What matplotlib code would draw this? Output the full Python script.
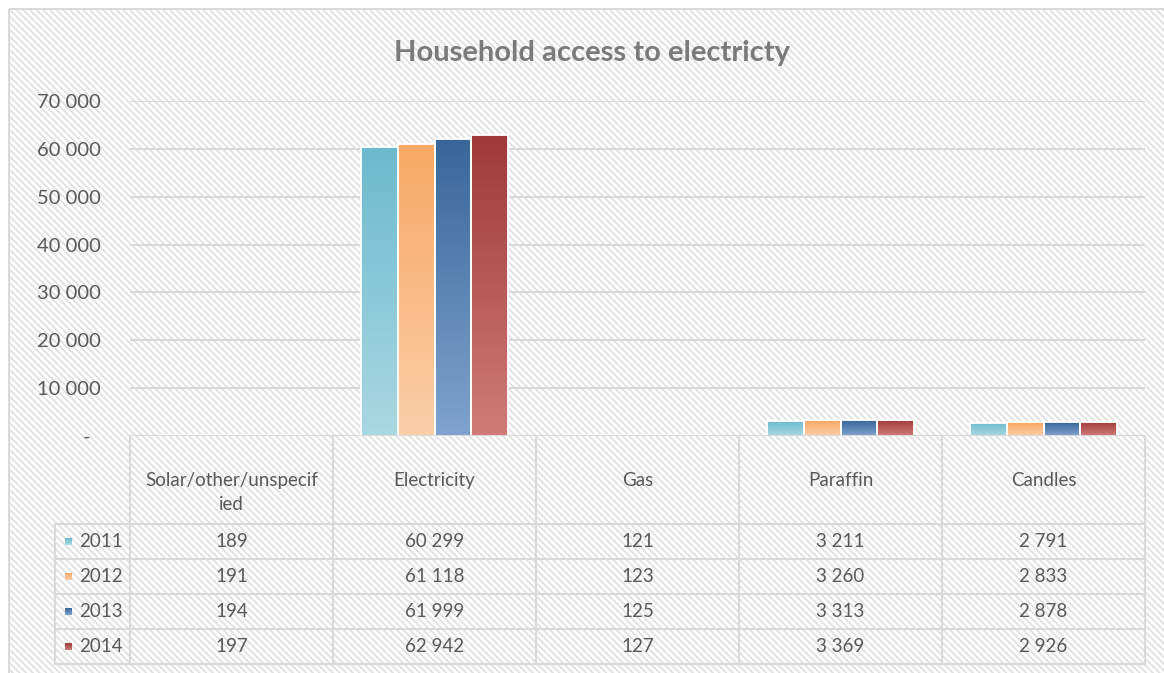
import matplotlib.pyplot as plt
import numpy as np
from matplotlib.colors import LinearSegmentedColormap
from matplotlib.patches import Rectangle
from matplotlib.ticker import FuncFormatter

# data
categories = ["Solar/other/unspecif\nied", "Electricity", "Gas", "Paraffin", "Candles"]
years = ["2011", "2012", "2013", "2014"]
v2011 = [189, 60299, 121, 3211, 2791]
v2012 = [191, 61118, 123, 3260, 2833]
v2013 = [194, 61999, 125, 3313, 2878]
v2014 = [197, 62942, 127, 3369, 2926]
yticks = [0, 10000, 20000, 30000, 40000, 50000, 60000, 70000]

series = [v2011, v2012, v2013, v2014]
# (top colour, bottom colour) of each gradient fill
grads = [("#6cbacd", "#aad8e3"), ("#f8a864", "#fbcea8"),
         ("#386699", "#80a3cf"), ("#9c3a39", "#d17b79")]

plt.rcParams['font.family'] = ['Lato', 'DejaVu Sans']
plt.rcParams['hatch.linewidth'] = 1.3
txt = '#595959'
grid = '#d9d9d9'

W, H = 1164, 673
fig = plt.figure(figsize=(W / 100, H / 100), dpi=100)

# background / table axes in pixel coordinates
bg = fig.add_axes([0, 0, 1, 1], zorder=0)
bg.set_xlim(0, W)
bg.set_ylim(H, 0)
bg.axis('off')
bg.add_patch(Rectangle((9, 9), W, H, facecolor='white', edgecolor='#e0e0e0',
                       hatch='\\\\\\\\\\', linewidth=0))
bg.add_patch(Rectangle((9, 9), W, H, facecolor='none', edgecolor=grid, linewidth=1.5))

bg.text(592, 61, "Household access to electricty", ha='center', va='baseline',
        fontsize=21, fontweight='bold', color='#7a7a7a')

# bar axes
x0, x1, y0, y1 = 130, 1145, 436, 101
ax = fig.add_axes([x0 / W, 1 - y0 / H, (x1 - x0) / W, (y0 - y1) / H], zorder=1)
ax.patch.set_alpha(0)
for s in ax.spines.values():
    s.set_visible(False)
ax.set_yticks(yticks)
ax.yaxis.set_major_formatter(FuncFormatter(
    lambda v, p: "-  " if v == 0 else f"{int(v):,}".replace(",", " ")))
ax.tick_params(axis='y', length=0, pad=21, labelsize=14.5, labelcolor=txt)
ax.set_xticks([])
ax.grid(axis='y', color=grid, linewidth=1.5)
ax.set_axisbelow(True)

x = np.arange(len(categories))
bw = 0.18
grad_img = np.linspace(1, 0, 256).reshape(-1, 1)
for i, vals in enumerate(series):
    cmap = LinearSegmentedColormap.from_list(years[i], [grads[i][1], grads[i][0]])
    pos = x + (i - 1.5) * bw
    bars = ax.bar(pos, vals, width=bw, facecolor='none', edgecolor='white',
                  linewidth=1.3, zorder=3)
    for b in bars:
        bx, by = b.get_x(), b.get_y()
        im = ax.imshow(grad_img, cmap=cmap, aspect='auto', interpolation='bilinear',
                       extent=(bx, bx + b.get_width(), by, by + b.get_height()),
                       vmin=0, vmax=1, zorder=2)
        im.set_clip_path(b)
ax.axhline(0, color=grid, linewidth=1.5, zorder=4)
ax.set_ylim(0, 70000)
ax.set_xlim(-0.5, len(categories) - 0.5)

# data table below the plot
col_w = (x1 - x0) / len(categories)
head_top, head_bot = 437, 524
row_h = 35
lab_left = 55
rows_bot = head_bot + row_h * len(years)
lc = dict(color=grid, linewidth=1.5)
for r in range(len(years) + 1):
    yy = head_bot + r * row_h
    bg.plot([lab_left, x1], [yy, yy], **lc)
bg.plot([lab_left, lab_left], [head_bot, rows_bot], **lc)
for c in range(len(categories) + 1):
    xx = x0 + c * col_w
    bg.plot([xx, xx], [head_top, rows_bot], **lc)

for c, cat in enumerate(categories):
    cx = x0 + (c + 0.5) * col_w
    bg.text(cx, 472, cat, ha='center', va='top', fontsize=13.5, color=txt,
            linespacing=1.5)
    for r, vals in enumerate(series):
        cy = head_bot + (r + 0.5) * row_h
        bg.text(cx, cy, f"{vals[c]:,}".replace(",", " "), ha='center', va='center',
                fontsize=13.5, color=txt)

for r, yr in enumerate(years):
    cy = head_bot + (r + 0.5) * row_h
    cmap = LinearSegmentedColormap.from_list(yr, [grads[r][1], grads[r][0]])
    bg.imshow(grad_img, cmap=cmap, aspect='auto', extent=(65, 72, cy + 3.5, cy - 3.5),
              vmin=0, vmax=1, zorder=3)
    bg.text(79, cy, yr, ha='left', va='center', fontsize=13.5, color=txt)
bg.set_xlim(0, W)
bg.set_ylim(H, 0)

fig.savefig("out.png", dpi=100)
